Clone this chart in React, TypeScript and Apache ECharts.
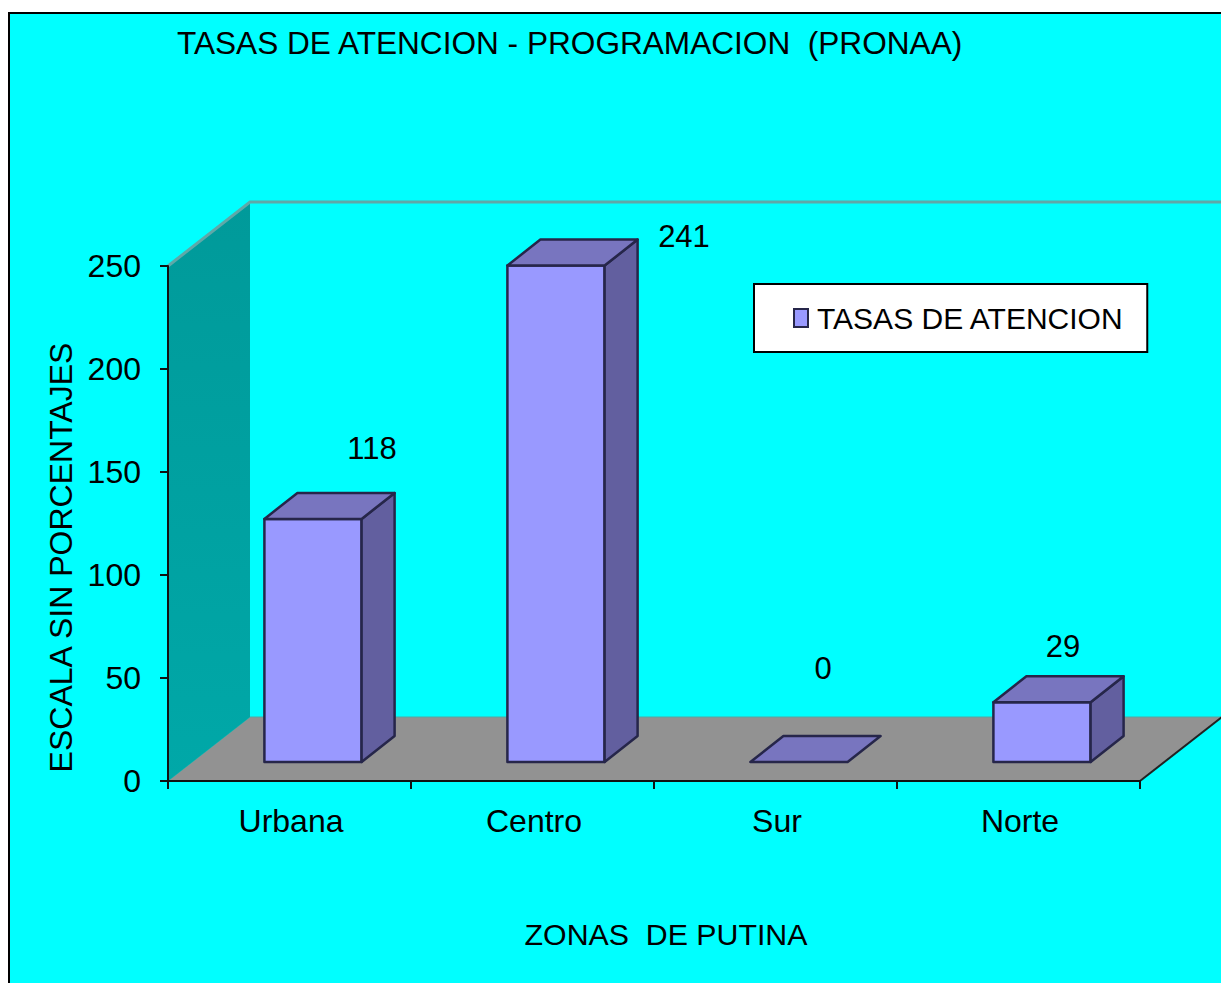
import React, { useEffect, useRef } from "react";
import * as echarts from "echarts";

const titleText = "TASAS DE ATENCION - PROGRAMACION  (PRONAA)";
const seriesName = "TASAS DE ATENCION";
const categories = ["Urbana", "Centro", "Sur", "Norte"];
const values = [118, 241, 0, 29];
const yTicks = { min: 0, max: 250, interval: 50 };
const yAxisName = "ESCALA SIN PORCENTAJES";
const xAxisName = "ZONAS  DE PUTINA";

const labelOffsets = [[59, -70], [128, -29], [24, -94], [21, -56]];
const FONT = '"Liberation Sans", Arial, sans-serif';
const GRID = { left: 168, top: 266, width: 972, height: 515 };
const WALL_DX = 82;
const WALL_DY = -64;
const BAR_RATIO = 0.4;
const BAR_SHIFT = 23.5;
const BAR_LIFT = 19;
const BAR_DX = 33;
const BAR_DY = -26;
const EDGE = "#26264a";

function renderWalls(params: any) {
  const c = params.coordSys;
  const x0 = c.x, x1 = c.x + c.width, top = c.y, bot = c.y + c.height;
  const dx = WALL_DX, dy = WALL_DY;
  return {
    type: "group",
    children: [
      {
        type: "polygon",
        shape: { points: [[x0 + dx, bot + dy], [x1 + dx, bot + dy], [x1, bot], [x0, bot]] },
        style: { fill: "#929292", stroke: "#55a5a0", lineWidth: 1 },
      },
      {
        type: "polygon",
        shape: { points: [[x0, top], [x0 + dx, top + dy], [x0 + dx, bot + dy], [x0, bot]] },
        style: {
          fill: new echarts.graphic.LinearGradient(0, 0, 0, 1, [
            { offset: 0, color: "#009a9a" },
            { offset: 1, color: "#00a8a8" },
          ]),
        },
      },
      {
        type: "polyline",
        shape: { points: [[x0, top], [x0 + dx, top + dy], [x1 + dx + 10, top + dy]] },
        style: { fill: "none", stroke: "#5fa8a8", lineWidth: 3 },
      },
      {
        type: "line",
        shape: { x1: x1, y1: bot, x2: x1 + dx, y2: bot + dy },
        style: { stroke: "#222222", lineWidth: 2 },
      },
    ],
  };
}

function renderBar(params: any, api: any) {
  const cat = api.value(0);
  const val = api.value(1);
  const center = api.coord([cat, 0]);
  const topPt = api.coord([cat, val]);
  const w = api.size([1, 0])[0] * BAR_RATIO;
  const xl = center[0] + BAR_SHIFT - w / 2;
  const xr = xl + w;
  const yb = center[1] - BAR_LIFT;
  const yt = topPt[1] - BAR_LIFT;
  const stroke = { stroke: EDGE, lineWidth: 2.5, lineJoin: "round" };
  const children: any[] = [];
  if (val > 0) {
    children.push({
      type: "polygon",
      shape: { points: [[xl, yb], [xr, yb], [xr, yt], [xl, yt]] },
      style: { fill: "#9999ff", ...stroke },
    });
    children.push({
      type: "polygon",
      shape: { points: [[xr, yb], [xr + BAR_DX, yb + BAR_DY], [xr + BAR_DX, yt + BAR_DY], [xr, yt]] },
      style: { fill: "#625f9f", ...stroke },
    });
  }
  children.push({
    type: "polygon",
    shape: { points: [[xl, yt], [xr, yt], [xr + BAR_DX, yt + BAR_DY], [xl + BAR_DX, yt + BAR_DY]] },
    style: { fill: "#7875bf", ...stroke },
  });
  const off = labelOffsets[params.dataIndex];
  children.push({
    type: "text",
    style: {
      text: String(val),
      x: (xl + xr) / 2 + off[0],
      y: yt + off[1],
      fill: "#000",
      font: `31px ${FONT}`,
      textAlign: "center",
      textVerticalAlign: "middle",
    },
  });
  return { type: "group", children };
}

export default function App() {
  const ref = useRef<HTMLDivElement>(null);
  useEffect(() => {
    const chart = echarts.init(ref.current!, undefined, { renderer: "svg" });
    chart.setOption({
      animation: false,
      backgroundColor: "#ffffff",
      graphic: [
        {
          type: "rect",
          z: -10,
          shape: { x: 9, y: 13, width: 1300, height: 1000 },
          style: { fill: "#00ffff", stroke: "#000", lineWidth: 2 },
        },
      ],
      title: {
        text: titleText,
        left: 177,
        top: 27,
        padding: 0,
        textStyle: { fontFamily: FONT, fontWeight: "normal", fontSize: 31.6, color: "#000" },
      },
      legend: {
        left: 754,
        top: 284,
        padding: [19, 23, 19, 39],
        backgroundColor: "#fff",
        borderColor: "#000",
        borderWidth: 2,
        itemWidth: 14,
        itemHeight: 18,
        selectedMode: false,
        textStyle: { fontFamily: FONT, fontSize: 30, color: "#000", padding: [0, 0, 0, 4] },
        data: [
          {
            name: seriesName,
            icon: "rect",
            itemStyle: { color: "#9999ff", borderColor: EDGE, borderWidth: 2 },
          },
        ],
      },
      grid: { ...GRID },
      xAxis: {
        type: "category",
        data: categories,
        z: 10,
        axisLine: { lineStyle: { color: "#111", width: 2 } },
        axisTick: { show: true, length: 8, alignWithLabel: false, lineStyle: { color: "#111", width: 2 } },
        axisLabel: { fontFamily: FONT, fontSize: 32, color: "#000", margin: 24, padding: [0, 0, 0, 3] },
        name: xAxisName,
        nameLocation: "middle",
        nameGap: 138,
        nameTextStyle: { fontFamily: FONT, fontSize: 30.3, color: "#000", padding: [0, 0, 0, 24] },
      },
      yAxis: {
        type: "value",
        ...yTicks,
        z: 10,
        splitLine: { show: false },
        axisLine: { show: true, lineStyle: { color: "#111", width: 2 } },
        axisTick: { show: true, length: 8, lineStyle: { color: "#111", width: 2 } },
        axisLabel: { fontFamily: FONT, fontSize: 32, color: "#000", margin: 27 },
        name: yAxisName,
        nameLocation: "middle",
        nameGap: 87,
        nameRotate: 90,
        nameTextStyle: { fontFamily: FONT, fontSize: 32, color: "#000", padding: [0, 68, 0, 0] },
      },
      series: [
        {
          type: "custom",
          name: "walls",
          silent: true,
          clip: false,
          z: 1,
          data: [[0, 0]],
          renderItem: renderWalls,
        },
        {
          type: "custom",
          name: seriesName,
          clip: false,
          z: 3,
          itemStyle: { color: "#9999ff" },
          encode: { x: 0, y: 1 },
          data: values.map((v, i) => [i, v]),
          renderItem: renderBar,
        },
      ],
    });
    return () => chart.dispose();
  }, []);
  return (
    <div
      ref={ref}
      style={{ position: "absolute", left: 0, top: 0, width: 1221, height: 983 }}
    />
  );
}
